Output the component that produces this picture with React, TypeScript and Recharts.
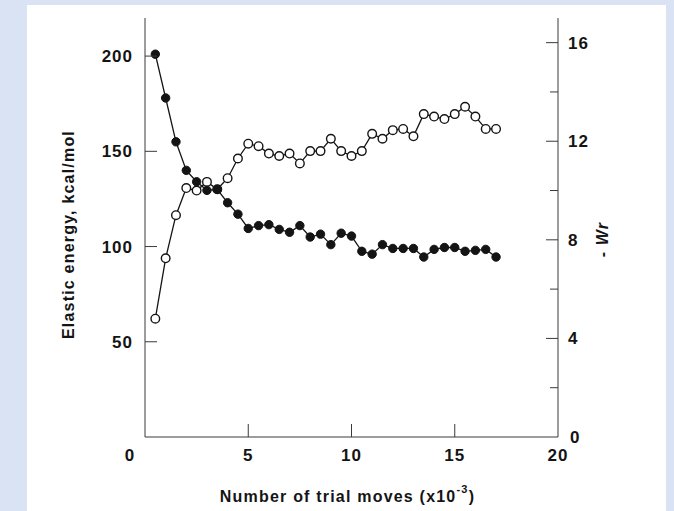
import React from 'react';
import { ComposedChart, Line, XAxis, YAxis } from 'recharts';

// trial moves, in thousands
const trialMoves = [
  0.5, 1, 1.5, 2, 2.5, 3, 3.5, 4, 4.5, 5, 5.5, 6, 6.5, 7, 7.5, 8, 8.5,
  9, 9.5, 10, 10.5, 11, 11.5, 12, 12.5, 13, 13.5, 14, 14.5, 15, 15.5, 16, 16.5, 17,
];

// filled circles, left axis (kcal/mol)
const elasticEnergy = [
  201, 178, 155, 140, 134, 129.5, 130, 123, 117, 109.5, 111, 111.5, 109, 107.5, 111, 105, 106.5,
  101, 107, 105.5, 97.5, 96, 101, 99, 99, 99, 94.5, 98.5, 99.5, 99.5, 97.5, 98, 98.5, 94.5,
];

// open circles, right axis (-Wr)
const negWr = [
  4.8, 7.25, 9.0, 10.1, 10.0, 10.35, 10.05, 10.5, 11.3, 11.9, 11.8, 11.5, 11.4, 11.5, 11.1, 11.6, 11.6,
  12.1, 11.6, 11.4, 11.6, 12.3, 12.1, 12.45, 12.5, 12.2, 13.1, 13.0, 12.9, 13.1, 13.4, 13.0, 12.5, 12.5,
];

const xTicks = [0, 5, 10, 15, 20];
const topTicks = [5, 10, 15];
const leftTicks = [50, 100, 150, 200];
const rightTicks = [0, 2, 4, 6, 8, 10, 12, 14, 16];

const data = trialMoves.map((x, i) => ({ x, energy: elasticEnergy[i], wr: negWr[i] }));

const INK = '#141414';
const FRAME = '#3a3a3a';
const font = {
  fontFamily: '"Liberation Sans", Arial, Helvetica, sans-serif',
  fontWeight: 700,
  fontSize: 16,
  letterSpacing: 1.2,
  fill: INK,
};
const tickFont = { ...font, fontSize: 17, letterSpacing: 1 };

const BottomTick = ({ x, y, payload }: any) => {
  const v = payload.value;
  const inner = v > 0 && v < 20;
  return (
    <g>
      {inner && <line x1={x} y1={y} x2={x} y2={y - 13} stroke={FRAME} strokeWidth={1} />}
      <text x={x + (v === 0 ? -15 : 0)} y={y + 24} textAnchor="middle" {...tickFont}>
        {v}
      </text>
    </g>
  );
};

const TopTick = ({ x, y }: any) => (
  <line x1={x} y1={y} x2={x} y2={y + 13} stroke={FRAME} strokeWidth={1} />
);

const LeftTick = ({ x, y, payload }: any) => (
  <g>
    <line x1={x} y1={y} x2={x + 12} y2={y} stroke={FRAME} strokeWidth={1} />
    <text x={x - 12} y={y + 6} textAnchor="end" {...tickFont}>
      {payload.value}
    </text>
  </g>
);

const RightTick = ({ x, y, payload }: any) => {
  const major = payload.value % 4 === 0;
  return (
    <g>
      {payload.value > 0 && (
        <line x1={x} y1={y} x2={x - (major ? 12 : 8)} y2={y} stroke={FRAME} strokeWidth={1} />
      )}
      {major && (
        <text x={x + (payload.value === 0 ? 12 : 10)} y={y + 6} textAnchor="start" {...tickFont}>
          {payload.value}
        </text>
      )}
    </g>
  );
};

const LeftTitle = ({ viewBox }: any) => {
  const cx = viewBox.x - 17;
  const cy = viewBox.y + viewBox.height / 2 + 7;
  return (
    <text x={cx} y={cy} transform={`rotate(-90 ${cx} ${cy})`} textAnchor="middle" dominantBaseline="central" {...font}>
      Elastic energy, kcal/mol
    </text>
  );
};

const RightTitle = ({ viewBox }: any) => {
  const cx = viewBox.x + 44;
  const cy = viewBox.y + viewBox.height / 2 + 12;
  return (
    <text x={cx} y={cy} transform={`rotate(-90 ${cx} ${cy})`} textAnchor="middle" dominantBaseline="central" {...font} fontStyle="italic">
      - Wr
    </text>
  );
};

const BottomTitle = ({ viewBox }: any) => {
  const cx = viewBox.x + viewBox.width / 2 - 4;
  const by = viewBox.y + 65;
  return (
    <text x={cx} y={by} textAnchor="middle" {...font}>
      Number of trial moves (x10
      <tspan dy={-9} fontSize={11}>-3</tspan>
      <tspan dy={9}>)</tspan>
    </text>
  );
};

export default function App() {
  return (
    <div style={{ position: 'fixed', left: 0, top: 0, width: 674, height: 511, background: '#dae3f3' }}>
      <div style={{ position: 'absolute', left: 27, top: 5, width: 639, height: 506, background: '#fff' }} />
      <div style={{ position: 'absolute', left: 0, top: 0 }}>
        <ComposedChart
          width={674}
          height={511}
          data={data}
          margin={{ top: 18, right: 56, bottom: 14, left: 85 }}
        >
          <XAxis
            xAxisId="bottom"
            dataKey="x"
            type="number"
            domain={[0, 20]}
            ticks={xTicks}
            interval={0}
            height={60}
            tickSize={0}
            tickMargin={0}
            tickLine={false}
            axisLine={{ stroke: FRAME, strokeWidth: 1 }}
            tick={<BottomTick />}
            label={<BottomTitle />}
          />
          <XAxis
            xAxisId="top"
            orientation="top"
            dataKey="x"
            type="number"
            domain={[0, 20]}
            ticks={topTicks}
            interval={0}
            height={0}
            tickSize={0}
            tickMargin={0}
            tickLine={false}
            axisLine={{ stroke: FRAME, strokeWidth: 1 }}
            tick={<TopTick />}
          />
          <YAxis
            yAxisId="left"
            type="number"
            domain={[0, 220]}
            ticks={leftTicks}
            interval={0}
            width={60}
            tickSize={0}
            tickMargin={0}
            tickLine={false}
            axisLine={{ stroke: FRAME, strokeWidth: 1 }}
            tick={<LeftTick />}
            label={<LeftTitle />}
          />
          <YAxis
            yAxisId="right"
            orientation="right"
            type="number"
            domain={[0, 17]}
            ticks={rightTicks}
            interval={0}
            width={60}
            tickSize={0}
            tickMargin={0}
            tickLine={false}
            axisLine={{ stroke: FRAME, strokeWidth: 1 }}
            tick={<RightTick />}
            label={<RightTitle />}
          />
          <Line
            xAxisId="bottom"
            yAxisId="right"
            dataKey="wr"
            type="linear"
            stroke={INK}
            strokeWidth={1.3}
            dot={{ r: 4.3, fill: '#fff', stroke: INK, strokeWidth: 1.4 }}
            activeDot={false}
            isAnimationActive={false}
          />
          <Line
            xAxisId="bottom"
            yAxisId="left"
            dataKey="energy"
            type="linear"
            stroke={INK}
            strokeWidth={1.3}
            dot={{ r: 4.2, fill: INK, stroke: INK, strokeWidth: 1 }}
            activeDot={false}
            isAnimationActive={false}
          />
        </ComposedChart>
      </div>
    </div>
  );
}
